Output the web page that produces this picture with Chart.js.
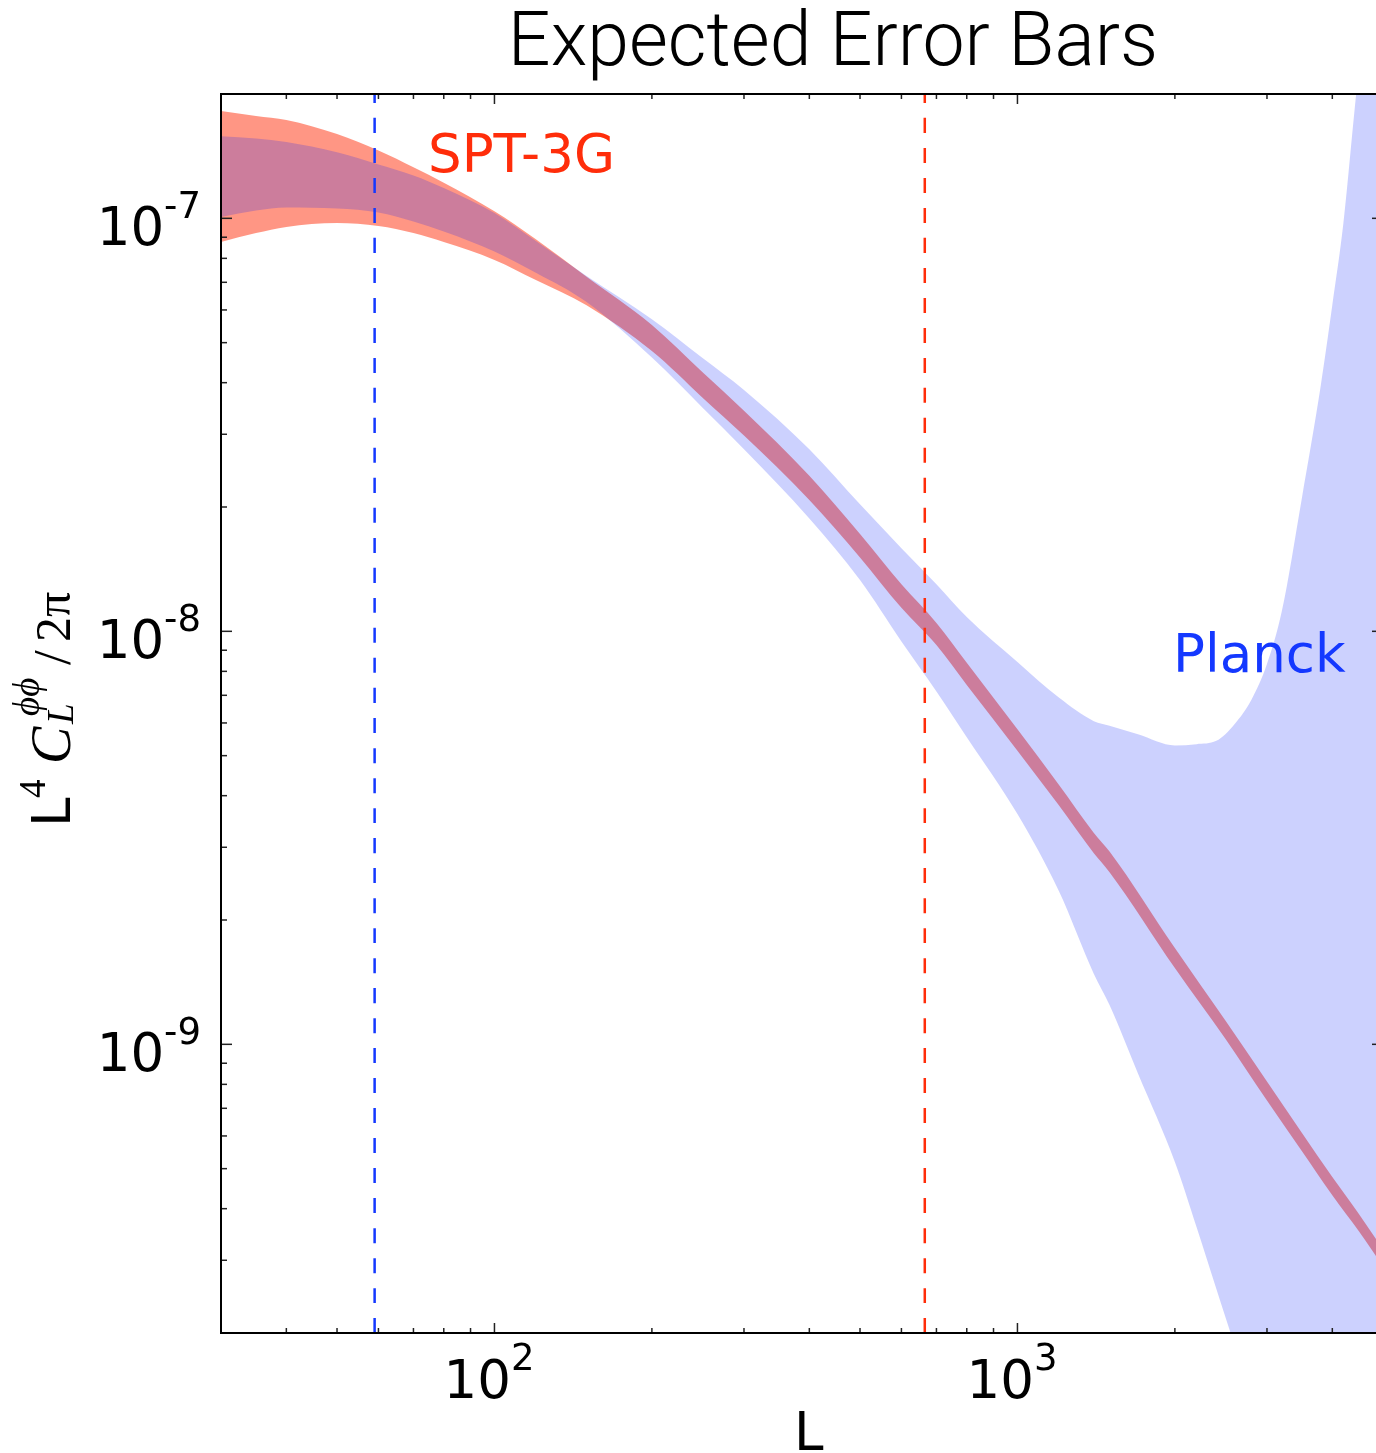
<!DOCTYPE html>
<html>
<head>
<meta charset="utf-8">
<title>Expected Error Bars</title>
<script src="https://cdn.jsdelivr.net/npm/chart.js@4.4.1/dist/chart.umd.min.js"></script>
<style>
  html, body { margin: 0; padding: 0; background: #fff; overflow: hidden; }
  #wrap { width: 1400px; height: 1453px; }
</style>
</head>
<body>
<div id="wrap"><canvas id="errorChart" width="1400" height="1453"></canvas></div>
<script>
// L^4 C_L^phiphi / 2pi bands
const planckL = [30, 35, 40, 50, 60, 70, 80, 100, 120, 150, 200, 250, 300, 400, 500, 600, 700, 800,
    1000, 1200, 1400, 1500, 1700, 2000, 2200, 2400, 2600, 2800, 3000, 3200, 3500, 3800, 4000, 4200, 4400, 4500, 5000];
const planckUpper = [1.58e-7, 1.56e-7, 1.53e-7, 1.445e-7, 1.35e-7, 1.27e-7, 1.184e-7, 1.03e-7, 8.81e-8, 7.25e-8,
    5.70e-8, 4.59e-8, 3.84e-8, 2.76e-8, 2.03e-8, 1.59e-8, 1.30e-8, 1.083e-8,
    8.43e-9, 6.91e-9, 6.06e-9, 5.91e-9, 5.63e-9, 5.29e-9, 5.33e-9, 5.43e-9, 5.96e-9, 6.82e-9, 8.33e-9,
    1.113e-8, 2.11e-8, 3.92e-8, 6.17e-8, 9.74e-8, 1.77e-7, 2.35e-7, 8.9e-7];
const planckLower = [1.007e-7, 1.044e-7, 1.062e-7, 1.056e-7, 1.033e-7, 9.82e-8, 9.29e-8, 8.31e-8, 7.38e-8, 6.27e-8,
    4.60e-8, 3.48e-8, 2.76e-8, 1.877e-8, 1.331e-8, 9.45e-9, 7.15e-9, 5.54e-9,
    3.61e-9, 2.35e-9, 1.48e-9, 1.245e-9, 8.50e-10, 5.19e-10, 3.61e-10, 2.56e-10, 1.87e-10, 1.39e-10, 1.06e-10,
    8.2e-11, 5.8e-11, 4.1e-11, 3.4e-11, 2.8e-11, 2.3e-11, 2.1e-11, 1.4e-11];

const sptL = [30, 35, 40, 50, 60, 70, 80, 100, 120, 150, 200, 250, 300, 400, 500, 600, 700, 800,
    1000, 1200, 1400, 1500, 2000, 2500, 3000, 3500, 4000, 4500, 5000];
const sptUpper = [1.82e-7, 1.77e-7, 1.73e-7, 1.60e-7, 1.46e-7, 1.33e-7, 1.22e-7, 1.04e-7, 8.9e-8, 7.22e-8,
    5.52e-8, 4.24e-8, 3.42e-8, 2.38e-8, 1.72e-8, 1.30e-8, 1.048e-8, 8.39e-9,
    5.79e-9, 4.25e-9, 3.25e-9, 2.93e-9, 1.71e-9, 1.14e-9, 8.13e-10, 6.10e-10, 4.77e-10, 3.88e-10, 3.19e-10];
const sptLower = [8.76e-8, 9.21e-8, 9.53e-8, 9.74e-8, 9.58e-8, 9.21e-8, 8.76e-8, 7.93e-8, 7.09e-8, 6.16e-8,
    4.77e-8, 3.68e-8, 2.98e-8, 2.08e-8, 1.51e-8, 1.14e-8, 9.26e-9, 7.41e-9,
    5.14e-9, 3.79e-9, 2.90e-9, 2.61e-9, 1.53e-9, 1.03e-9, 7.31e-10, 5.51e-10, 4.31e-10, 3.52e-10, 2.90e-10];

// dashed L cuts
const planckCut = 59;
const sptCut = 665;

const xRange = [30, 5000];
const yRange = [2e-10, 2e-7];
const xTickValues = [100, 1000];
const xTickExp = ['2', '3'];
const yTickValues = [1e-7, 1e-8, 1e-9];
const yTickExp = ['-7', '-8', '-9'];

const BLUE = '#1438ff';
const RED = '#ff2d0a';

function toPoints(xs, ys) {
    return xs.map((x, i) => ({ x: x, y: ys[i] }));
}

function minorTicks(decades, lo, hi) {
    const out = [];
    decades.forEach(d => {
        for (let k = 2; k <= 9; k++) {
            const v = k * d;
            if (v > lo * 1.0001 && v < hi * 0.9999) out.push(v);
        }
    });
    return out;
}
const xMinor = minorTicks([10, 100, 1000], xRange[0], xRange[1]);
const yMinor = minorTicks([1e-10, 1e-9, 1e-8], yRange[0], yRange[1]);

const decor = {
    id: 'decor',
    afterDraw(chart) {
        const ctx = chart.ctx;
        const a = chart.chartArea;
        const sx = chart.scales.x;
        const sy = chart.scales.y;
        ctx.save();

        // inward ticks on all four sides
        const line = (x1, y1, x2, y2) => {
            ctx.beginPath();
            ctx.moveTo(x1, y1);
            ctx.lineTo(x2, y2);
            ctx.stroke();
        };
        ctx.strokeStyle = '#222';
        ctx.lineWidth = 1.5;
        xMinor.forEach(v => {
            const px = sx.getPixelForValue(v);
            line(px, a.bottom, px, a.bottom - 5);
            line(px, a.top, px, a.top + 5);
        });
        xTickValues.forEach(v => {
            const px = sx.getPixelForValue(v);
            line(px, a.bottom, px, a.bottom - 10);
            line(px, a.top, px, a.top + 10);
        });
        yMinor.forEach(v => {
            const py = sy.getPixelForValue(v);
            line(a.left, py, a.left + 6, py);
            line(a.right, py, a.right - 6, py);
        });
        yTickValues.forEach(v => {
            const py = sy.getPixelForValue(v);
            line(a.left, py, a.left + 11, py);
            line(a.right, py, a.right - 11, py);
        });

        // frame
        ctx.strokeStyle = '#000';
        ctx.lineWidth = 2;
        ctx.strokeRect(a.left, a.top, a.right - a.left, a.bottom - a.top);

        // tick labels
        ctx.fillStyle = '#000';
        ctx.textBaseline = 'alphabetic';
        ctx.textAlign = 'left';
        xTickValues.forEach((v, i) => {
            const px = sx.getPixelForValue(v);
            const start = px - 51;
            ctx.font = '53px "DejaVu Sans"';
            ctx.fillText('10', start, a.bottom + 65);
            const w = ctx.measureText('10').width;
            ctx.font = '37px "DejaVu Sans"';
            ctx.fillText(xTickExp[i], start + w, a.bottom + 37);
        });
        yTickValues.forEach((v, i) => {
            const py = sy.getPixelForValue(v);
            ctx.font = '53px "DejaVu Sans"';
            const w10 = ctx.measureText('10').width;
            ctx.font = '37px "DejaVu Sans"';
            const we = ctx.measureText(yTickExp[i]).width;
            const start = a.left - 20 - (w10 + we);
            ctx.font = '53px "DejaVu Sans"';
            ctx.fillText('10', start, py + 27);
            ctx.font = '37px "DejaVu Sans"';
            ctx.fillText(yTickExp[i], start + w10, py);
        });

        // title
        let size = 72;
        ctx.font = '300 ' + size + 'px Roboto';
        const tw = ctx.measureText('Expected Error Bars').width;
        size = size * 650 / tw;
        ctx.font = '300 ' + size.toFixed(1) + 'px Roboto';
        ctx.textAlign = 'center';
        ctx.fillText('Expected Error Bars', 833, 65);

        // x label
        ctx.textAlign = 'left';
        ctx.font = '53px "DejaVu Sans"';
        ctx.fillText('L', 794, a.bottom + 117);

        // band names
        ctx.fillStyle = RED;
        ctx.fillText('SPT-3G', 428, 172);
        ctx.fillStyle = BLUE;
        ctx.fillText('Planck', 1173, 672);

        // y label, rotated: L^4 C_L^{phi phi} /2pi
        ctx.fillStyle = '#000';
        ctx.translate(70, 822);
        ctx.rotate(-Math.PI / 2);
        const serif = '"Liberation Serif", "DejaVu Serif", serif';
        ctx.font = '53px "DejaVu Sans"';
        ctx.fillText('L', -5, 0);
        ctx.font = '37px ' + serif;
        ctx.fillText('4', 24, -25);
        ctx.font = 'italic 56px ' + serif;
        ctx.fillText('C', 58, 0);
        ctx.font = 'italic 37px ' + serif;
        ctx.fillText('\u03D5\u03D5', 106, -31);
        ctx.fillText('L', 98, 3);
        ctx.font = '53px ' + serif;
        ctx.fillText('/', 157, 0);
        ctx.font = '50px ' + serif;
        ctx.fillText('2\u03C0', 180, 0);

        ctx.restore();
    }
};

const ctx = document.getElementById('errorChart').getContext('2d');

new Chart(ctx, {
    type: 'line',
    data: {
        datasets: [
            {
                label: 'Planck upper',
                data: toPoints(planckL, planckUpper),
                backgroundColor: 'rgba(0, 25, 250, 0.2)',
                borderWidth: 0,
                fill: '+1',
                order: 2,
            },
            {
                label: 'Planck lower',
                data: toPoints(planckL, planckLower),
                borderWidth: 0,
                fill: false,
                order: 2,
            },
            {
                label: 'SPT-3G upper',
                data: toPoints(sptL, sptUpper),
                backgroundColor: 'rgba(255, 45, 10, 0.5)',
                borderWidth: 0,
                fill: '+1',
                order: 3,
            },
            {
                label: 'SPT-3G lower',
                data: toPoints(sptL, sptLower),
                borderWidth: 0,
                fill: false,
                order: 3,
            },
            {
                label: 'Planck cut',
                data: [{ x: planckCut, y: yRange[0] }, { x: planckCut, y: yRange[1] }],
                borderColor: BLUE,
                borderWidth: 2.5,
                borderDash: [15, 15],
                fill: false,
                order: 1,
            },
            {
                label: 'SPT-3G cut',
                data: [{ x: sptCut, y: yRange[0] }, { x: sptCut, y: yRange[1] }],
                borderColor: RED,
                borderWidth: 2.5,
                borderDash: [15, 15],
                fill: false,
                order: 1,
            },
        ],
    },
    options: {
        responsive: false,
        animation: false,
        devicePixelRatio: 1,
        layout: {
            padding: { left: 221, right: 17, top: 94, bottom: 120 },
        },
        elements: {
            point: { radius: 0, hoverRadius: 0 },
            line: { cubicInterpolationMode: 'monotone' },
        },
        scales: {
            x: {
                type: 'logarithmic',
                min: xRange[0],
                max: xRange[1],
                display: false,
            },
            y: {
                type: 'logarithmic',
                min: yRange[0],
                max: yRange[1],
                display: false,
            },
        },
        plugins: {
            legend: { display: false },
            tooltip: { enabled: false },
            title: { display: false },
        },
    },
    plugins: [decor],
});
</script>
</body>
</html>
